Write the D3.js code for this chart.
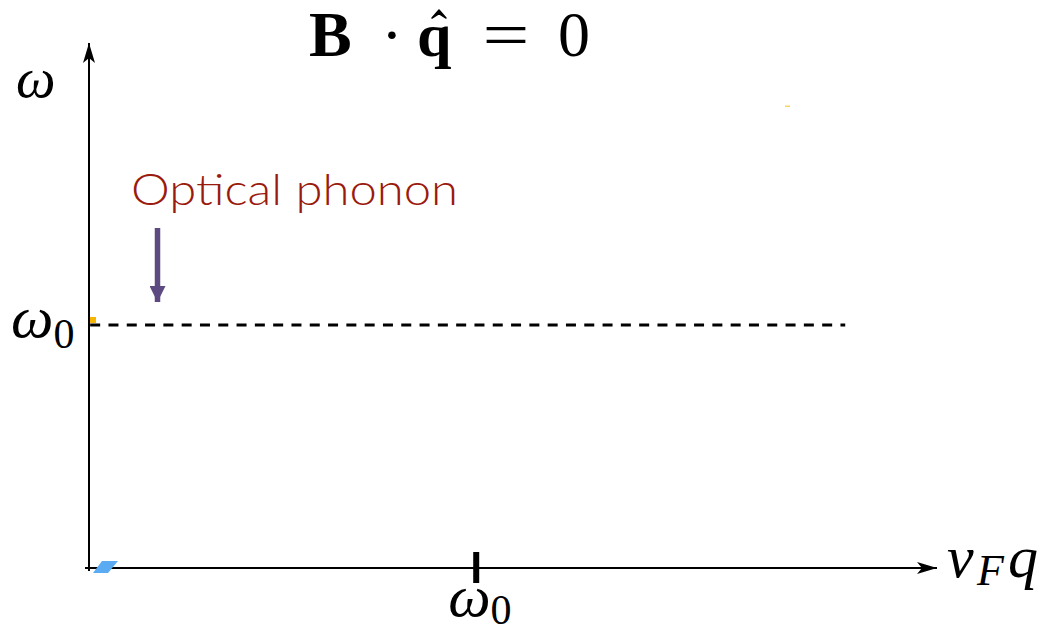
<!DOCTYPE html>
<html>
<head>
<meta charset="utf-8">
<script src="https://cdn.jsdelivr.net/npm/d3@7"></script>
<style>
  html, body { margin: 0; padding: 0; background: #fff; }
  svg { display: block; }
</style>
</head>
<body>
<svg id="chart" width="1043" height="633"></svg>
<script>
// Dispersion sketch: optical phonon branch at ω0 for B·q̂ = 0
// Quantities in units of ω0
const xDomain = [0, 2.19];          // v_F q / ω0
const yDomain = [0, 2.16];          // ω / ω0
const xTicks = [1];                 // tick positions
const xTickLabels = ["ω", "0"];     // tick label (base, subscript)
const phononQ = [0.003, 1.953];     // extent of the phonon branch
const phononOmega = [1, 1];         // flat optical phonon frequency
const phononLabel = "Optical phonon";

const svg = d3.select("#chart");
const origin = { x: 89, y: 568 };

const x = d3.scaleLinear().domain(xDomain).range([origin.x, 937]);
const y = d3.scaleLinear().domain(yDomain).range([origin.y, 43]);

const defs = svg.append("defs");
defs.append("marker")
  .attr("id", "axisHead")
  .attr("viewBox", "0 0 20 12")
  .attr("refX", 20).attr("refY", 6)
  .attr("markerWidth", 20).attr("markerHeight", 12)
  .attr("markerUnits", "userSpaceOnUse")
  .attr("orient", "auto")
  .append("path")
  .attr("d", "M0,0 L20,6 L0,12 L5,6 Z")
  .attr("fill", "#000");

defs.append("marker")
  .attr("id", "purpleHead")
  .attr("viewBox", "0 0 16 16")
  .attr("refX", 8).attr("refY", 16)
  .attr("markerWidth", 16).attr("markerHeight", 16)
  .attr("markerUnits", "userSpaceOnUse")
  .attr("orient", 0)
  .append("path")
  .attr("d", "M0,0 L16,0 L8,16 Z")
  .attr("fill", "#5d4a80");

// Axes
svg.append("line")
  .attr("x1", x(0) - 4).attr("y1", y(0))
  .attr("x2", x(xDomain[1])).attr("y2", y(0))
  .attr("stroke", "#000").attr("stroke-width", 2)
  .attr("marker-end", "url(#axisHead)");

svg.append("line")
  .attr("x1", x(0)).attr("y1", y(0) + 3)
  .attr("x2", x(0)).attr("y2", y(yDomain[1]))
  .attr("stroke", "#000").attr("stroke-width", 2)
  .attr("marker-end", "url(#axisHead)");

// x ticks
svg.selectAll(".xtick").data(xTicks).enter().append("line")
  .attr("class", "xtick")
  .attr("x1", d => x(d)).attr("x2", d => x(d))
  .attr("y1", y(0) - 16).attr("y2", y(0) + 15)
  .attr("stroke", "#000").attr("stroke-width", 6);

const mathFont = "'Liberation Serif', 'DejaVu Serif', serif";

svg.selectAll(".xtickLabel").data(xTicks).enter().append("text")
  .attr("class", "xtickLabel")
  .attr("x", d => x(d) - 28).attr("y", 616)
  .attr("font-family", mathFont)
  .call(t => {
    t.append("tspan").attr("font-style", "italic").attr("font-size", 60).text(xTickLabels[0]);
    t.append("tspan").attr("font-size", 42).attr("dy", 8).text(xTickLabels[1]);
  });

// Optical phonon branch
const line = d3.line().x(d => x(d[0])).y(d => y(d[1]));
svg.append("path")
  .datum(phononQ.map((q, i) => [q, phononOmega[i]]))
  .attr("d", line)
  .attr("fill", "none")
  .attr("stroke", "#000")
  .attr("stroke-width", 3)
  .attr("stroke-dasharray", "10,8.3");

// y-value label at ω0
svg.append("text")
  .attr("x", 11).attr("y", y(phononOmega[0]) + 12)
  .attr("font-family", mathFont)
  .call(t => {
    t.append("tspan").attr("font-style", "italic").attr("font-size", 60).text("ω");
    t.append("tspan").attr("font-size", 42).attr("dy", 11).text("0");
  });

// small highlight markers
svg.append("rect")
  .attr("x", x(0) + 1).attr("y", y(phononOmega[0]) - 8)
  .attr("width", 6).attr("height", 6)
  .attr("fill", "#f7b500");
svg.append("path")
  .attr("d", `M${x(0) + 4},${y(0) + 5} L${x(0) + 13},${y(0) - 7} L${x(0) + 29},${y(0) - 7} L${x(0) + 19},${y(0) + 5} Z`)
  .attr("fill", "#5aabf2");
svg.append("rect")
  .attr("x", 785).attr("y", 105.5).attr("width", 5).attr("height", 1.5)
  .attr("fill", "#f5d860");

// Axis titles
svg.append("text")
  .attr("x", 16).attr("y", 97)
  .attr("font-family", mathFont).attr("font-style", "italic")
  .attr("font-size", 56).text("ω");

const xTitle = svg.append("g").attr("font-family", mathFont).attr("font-style", "italic");
xTitle.append("text").attr("x", 947).attr("y", 577).attr("font-size", 60).text("v");
xTitle.append("text").attr("x", 977).attr("y", 585).attr("font-size", 44).text("F");
xTitle.append("text").attr("x", 1008).attr("y", 577).attr("font-size", 60).text("q");

// Title: B · q̂ = 0
const title = svg.append("g").attr("font-family", mathFont).attr("font-size", 64);
title.append("text").attr("x", 309).attr("y", 56).attr("font-weight", "bold").text("B");
title.append("text").attr("x", 392).attr("y", 56).attr("text-anchor", "middle").text("·");
title.append("text").attr("x", 417).attr("y", 56).attr("font-weight", "bold")
  .attr("font-size", 62).text("q");
title.append("text").attr("x", 506).attr("y", 56).attr("text-anchor", "middle")
  .attr("transform", "translate(506,0) scale(1.3,1) translate(-506,0)")
  .text("=");
title.append("text").attr("x", 574).attr("y", 56).attr("text-anchor", "middle").text("0");
// circumflex accent over q
title.append("path")
  .attr("d", "M432,18 L439,10 L446,18 L439,13.5 Z")
  .attr("fill", "#000").attr("stroke", "#000").attr("stroke-width", 1.5)
  .attr("stroke-linejoin", "round");

// Annotation
svg.append("text")
  .attr("x", 131).attr("y", 205)
  .attr("font-family", "Lato, 'Open Sans', sans-serif")
  .attr("font-weight", 300)
  .attr("font-size", 43)
  .attr("fill", "#9a1a0d")
  .attr("textLength", 327)
  .attr("lengthAdjust", "spacingAndGlyphs")
  .text(phononLabel);

svg.append("line")
  .attr("x1", 157.5).attr("y1", 228)
  .attr("x2", 157.5).attr("y2", 302)
  .attr("stroke", "#5d4a80").attr("stroke-width", 5.5)
  .attr("marker-end", "url(#purpleHead)");
</script>
</body>
</html>
